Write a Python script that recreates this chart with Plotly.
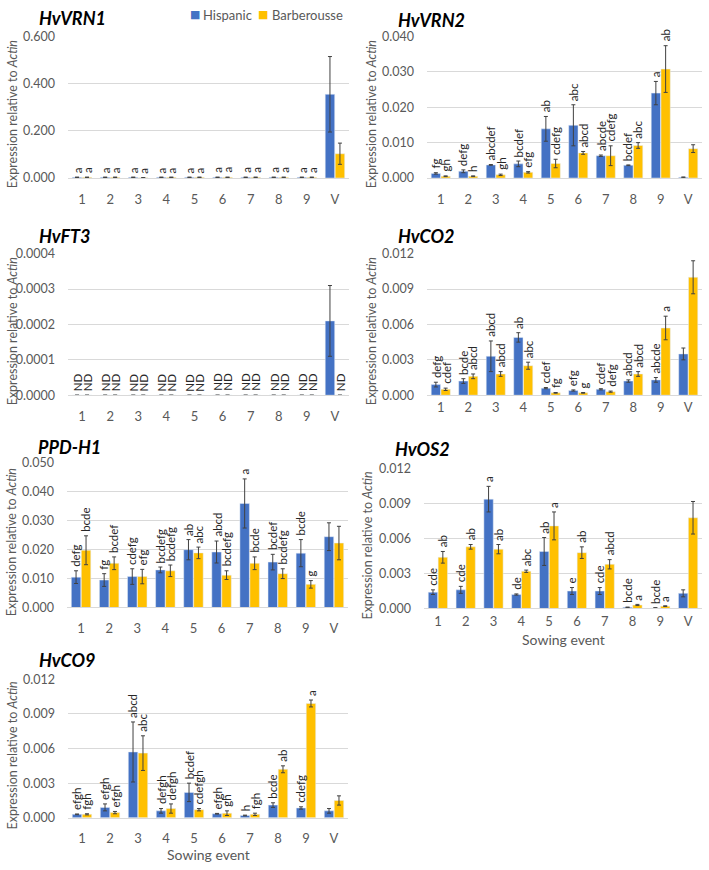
import plotly.graph_objects as go

events = ['1', '2', '3', '4', '5', '6', '7', '8', '9', 'V']
BLUE = '#4472C4'
GOLD = '#FFC000'
GREY = '#595959'

# HvVRN1
vrn1_h = [0.003, 0.003, 0.003, 0.003, 0.003, 0.003, 0.003, 0.003, 0.003, 0.355]
vrn1_h_err = [0.001, 0.001, 0.001, 0.001, 0.001, 0.001, 0.001, 0.001, 0.001, 0.160]
vrn1_b = [0.003, 0.003, 0.001, 0.003, 0.003, 0.003, 0.003, 0.003, 0.003, 0.103]
vrn1_b_err = [0.001, 0.001, 0.001, 0.001, 0.001, 0.001, 0.001, 0.001, 0.001, 0.045]
vrn1_h_let = ['a', 'a', 'a', 'a', 'a', 'a', 'a', 'a', 'a', '']
vrn1_b_let = ['a', 'a', 'a', 'a', 'a', 'a', 'a', 'a', 'a', '']

# HvVRN2
vrn2_h = [0.0013, 0.0019, 0.0037, 0.0040, 0.0139, 0.0149, 0.0063, 0.0036, 0.0240, 0.0002]
vrn2_h_err = [0.0002, 0.0004, 0.0001, 0.0008, 0.0035, 0.0058, 0.0002, 0.0001, 0.0033, 0.0001]
vrn2_b = [0.0005, 0.0005, 0.0009, 0.0016, 0.0041, 0.0071, 0.0063, 0.0092, 0.0308, 0.0083]
vrn2_b_err = [0.0001, 0.0001, 0.0002, 0.0002, 0.0012, 0.0004, 0.0028, 0.0008, 0.0066, 0.0011]
vrn2_h_let = ['fg', 'defg', 'abcdef', 'bcdef', 'ab', 'abc', 'abcde', 'bcdef', 'a', '']
vrn2_b_let = ['gh', 'h', 'gh', 'efg', 'cdefg', 'abcd', 'cdefg', 'abc', 'ab', '']

# HvFT3
ft3_h = [0, 0, 0, 0, 0, 0, 0, 0, 0, 0.00021]
ft3_h_err = [0, 0, 0, 0, 0, 0, 0, 0, 0, 0.0001]
ft3_b = [0, 0, 0, 0, 0, 0, 0, 0, 0, 0]
ft3_b_err = [0, 0, 0, 0, 0, 0, 0, 0, 0, 0]
ft3_h_let = ['ND', 'ND', 'ND', 'ND', 'ND', 'ND', 'ND', 'ND', 'ND', '']
ft3_b_let = ['ND', 'ND', 'ND', 'ND', 'ND', 'ND', 'ND', 'ND', 'ND', 'ND']

# HvCO2
co2_h = [0.0009, 0.0012, 0.0033, 0.0049, 0.0006, 0.0004, 0.0005, 0.0012, 0.0013, 0.0035]
co2_h_err = [0.0002, 0.0002, 0.0013, 0.0004, 0.00005, 0.00005, 0.00005, 0.0001, 0.0002, 0.0005]
co2_b = [0.0005, 0.0016, 0.0018, 0.0025, 0.0002, 0.0002, 0.0003, 0.0018, 0.0057, 0.0100]
co2_b_err = [0.0001, 0.0002, 0.0002, 0.0003, 0.00003, 0.00003, 0.00005, 0.0002, 0.0010, 0.0014]
co2_h_let = ['defg', 'bcde', 'abcd', 'ab', 'cdef', 'efg', 'cdef', 'abcd', 'abcde', '']
co2_b_let = ['cdef', 'abcd', 'abcd', 'abc', 'fg', 'g', 'defg', 'abcd', 'a', '']

# PPD-H1
ppd_h = [0.0105, 0.0095, 0.0107, 0.0130, 0.0200, 0.0192, 0.0360, 0.0157, 0.0188, 0.0245]
ppd_h_err = [0.0022, 0.0022, 0.0027, 0.0010, 0.0035, 0.0038, 0.0085, 0.0027, 0.0047, 0.0048]
ppd_b = [0.0198, 0.0153, 0.0107, 0.0127, 0.0189, 0.0112, 0.0153, 0.0117, 0.0080, 0.0223]
ppd_b_err = [0.0050, 0.0022, 0.0025, 0.0020, 0.0020, 0.0015, 0.0022, 0.0017, 0.0013, 0.0058]
ppd_h_let = ['defg', 'fg', 'cdefg', 'bcdefg', 'ab', 'abcd', 'a', 'bcdef', 'bcde', '']
ppd_b_let = ['bcde', 'bcdef', 'efg', 'bcdefg', 'abc', 'bcdefg', 'bcde', 'bcdefg', 'g', '']

# HvOS2
os2_h = [0.0014, 0.0016, 0.0094, 0.0012, 0.0049, 0.0015, 0.0015, 0.0001, 0.00005, 0.0013]
os2_h_err = [0.0002, 0.0003, 0.0011, 0.00005, 0.0012, 0.0003, 0.0003, 0.00002, 0.00002, 0.0003]
os2_b = [0.0044, 0.0053, 0.0051, 0.0032, 0.0071, 0.0048, 0.0038, 0.0003, 0.0002, 0.0078]
os2_b_err = [0.0005, 0.0002, 0.0004, 0.0001, 0.0012, 0.0005, 0.0004, 0.00005, 0.00003, 0.0014]
os2_h_let = ['cde', 'cde', 'a', 'de', 'ab', 'e', 'cde', 'bcde', 'bcde', '']
os2_b_let = ['ab', 'ab', 'ab', 'abc', 'a', 'ab', 'abcd', 'a', 'a', '']

# HvCO9
co9_h = [0.0003, 0.0009, 0.0057, 0.0006, 0.0022, 0.00035, 0.0002, 0.0011, 0.00085, 0.0006]
co9_h_err = [0.00003, 0.0003, 0.0026, 0.0002, 0.0008, 0.00003, 0.00003, 0.0002, 0.0001, 0.0002]
co9_b = [0.0003, 0.00045, 0.0056, 0.0008, 0.0007, 0.0004, 0.0003, 0.0042, 0.0099, 0.0015]
co9_b_err = [0.00005, 0.0001, 0.0015, 0.0004, 0.0001, 0.0002, 0.0001, 0.0003, 0.0003, 0.0004]
co9_h_let = ['efgh', 'efgh', 'abcd', 'defgh', 'bcdef', 'efgh', 'h', 'bcde', 'cdefg', '']
co9_b_let = ['fgh', 'efgh', 'abc', 'defgh', 'cdefgh', 'gh', 'fgh', 'ab', 'a', '']

# name, data..., y max, y step, tick format, x px, y px (top, zero), title offset, tick gap, x title y
panels = [
    ('HvVRN1', vrn1_h, vrn1_h_err, vrn1_b, vrn1_b_err, vrn1_h_let, vrn1_b_let, 0.6, 0.2, '.3f', (68, 349), (29, 173), 19, 9, None),
    ('HvVRN2', vrn2_h, vrn2_h_err, vrn2_b, vrn2_b_err, vrn2_h_let, vrn2_b_let, 0.04, 0.01, '.3f', (427, 702), (29, 173), 17, 9, None),
    ('HvFT3', ft3_h, ft3_h_err, ft3_b, ft3_b_err, ft3_h_let, ft3_b_let, 0.0004, 0.0001, '.4f', (68, 349), (250, 394), 18, 9, None),
    ('HvCO2', co2_h, co2_h_err, co2_b, co2_b_err, co2_h_let, co2_b_let, 0.012, 0.003, '.3f', (427, 702), (250, 394), 18, 0, None),
    ('PPD-H1', ppd_h, ppd_h_err, ppd_b, ppd_b_err, ppd_h_let, ppd_b_let, 0.05, 0.01, '.3f', (67, 348), (463, 610), 16, 9, None),
    ('HvOS2', os2_h, os2_h_err, os2_b, os2_b_err, os2_h_let, os2_b_let, 0.012, 0.003, '.3f', (424, 702), (469, 611), 20, 1, 643),
    ('HvCO9', co9_h, co9_h_err, co9_b, co9_b_err, co9_h_let, co9_b_let, 0.012, 0.003, '.3f', (68, 348), (683, 824), 20, 9, 861),
]

W, H = 709, 870
FONT = 'Lato, Open Sans, sans-serif'
OFF = 0.1775

fig = go.Figure()
annotations = []
layout = {}

for i, (name, h, he, b, be, hl, bl, ymax, step, fmt, xp, yp, toff, tgap, xty) in enumerate(panels):
    n = i + 1
    xa = 'x' if n == 1 else f'x{n}'
    ya = 'y' if n == 1 else f'y{n}'
    fig.add_trace(go.Bar(x=events, y=h, name='Hispanic', marker_color=BLUE,
                         error_y=dict(type='data', array=he, color='#404040', thickness=1, width=2),
                         xaxis=xa, yaxis=ya, showlegend=False))
    fig.add_trace(go.Bar(x=events, y=b, name='Barberousse', marker_color=GOLD,
                         error_y=dict(type='data', array=be, color='#404040', thickness=1, width=2),
                         xaxis=xa, yaxis=ya, showlegend=False))

    ticks = []
    v = 0.0
    while v <= ymax * 1.0001:
        ticks.append(round(v, 6))
        v += step

    layout['xaxis' if n == 1 else f'xaxis{n}'] = dict(
        domain=[xp[0] / W, xp[1] / W], anchor=ya, type='category',
        showgrid=False, showline=True, linecolor='#D9D9D9', linewidth=1,
        ticks='outside' if tgap else '', ticklen=tgap, tickcolor='rgba(0,0,0,0)',
        tickfont=dict(size=13, color=GREY, family=FONT))
    layout['yaxis' if n == 1 else f'yaxis{n}'] = dict(
        domain=[(H - yp[1]) / H, (H - yp[0]) / H], anchor=xa, range=[0, ymax],
        tickvals=ticks, tickformat=fmt, showgrid=True, gridcolor='#D9D9D9',
        zeroline=False, showline=False, ticklabelstandoff=12,
        tickfont=dict(size=12.5, color=GREY, family=FONT))

    # panel title
    annotations.append(dict(text=f'<b><i>{name}</i></b>', xref='paper', yref='paper',
                            x=(xp[0] - 31) / W, y=(H - (yp[0] - toff)) / H,
                            xanchor='left', yanchor='middle', showarrow=False,
                            font=dict(size=18, color='black', family=FONT)))
    # y axis title
    annotations.append(dict(text='Expression relative to <i>Actin</i>', xref='paper', yref='paper',
                            x=(xp[0] - 56) / W, y=(H - (yp[0] + yp[1]) / 2 - 7) / H,
                            xanchor='center', yanchor='middle', textangle=-90, showarrow=False,
                            font=dict(size=12.5, color=GREY, family=FONT)))
    if xty:
        annotations.append(dict(text='Sowing event', xref='paper', yref='paper',
                                x=(xp[0] + xp[1]) / 2 / W, y=(H - xty) / H,
                                xanchor='center', yanchor='middle', showarrow=False,
                                font=dict(size=14, color=GREY, family=FONT)))

    # significance letters
    for k in range(len(events)):
        for val, err, lab, dx in ((h[k], he[k], hl[k], -OFF), (b[k], be[k], bl[k], OFF)):
            if not lab:
                continue
            annotations.append(dict(text=lab, xref=xa, yref=ya, x=k + dx, y=val + err,
                                    xanchor='center', yanchor='bottom', yshift=2,
                                    textangle=-90, showarrow=False,
                                    font=dict(size=11.5, color='#262626', family=FONT)))

# legend (Excel style: small square + label)
for sx, tx, col, label in ((195, 201, BLUE, 'Hispanic'), (263, 270, GOLD, 'Barberousse')):
    annotations.append(dict(text='■', xref='paper', yref='paper', x=sx / W, y=(H - 7) / H,
                            xanchor='center', yanchor='middle', showarrow=False,
                            font=dict(size=11, color=col, family='DejaVu Sans')))
    annotations.append(dict(text=label, xref='paper', yref='paper', x=tx / W, y=(H - 7) / H,
                            xanchor='left', yanchor='middle', showarrow=False,
                            font=dict(size=13, color=GREY, family=FONT)))

fig.update_layout(
    **layout,
    width=W, height=H,
    margin=dict(l=0, r=0, t=0, b=0),
    paper_bgcolor='white', plot_bgcolor='white',
    barmode='group', bargap=0.29, bargroupgap=0.05,
    annotations=annotations,
    showlegend=False,
)

fig.write_html('out.html', config={'displayModeBar': False},
               post_script="document.body.style.margin='0';document.body.style.overflow='hidden';")
